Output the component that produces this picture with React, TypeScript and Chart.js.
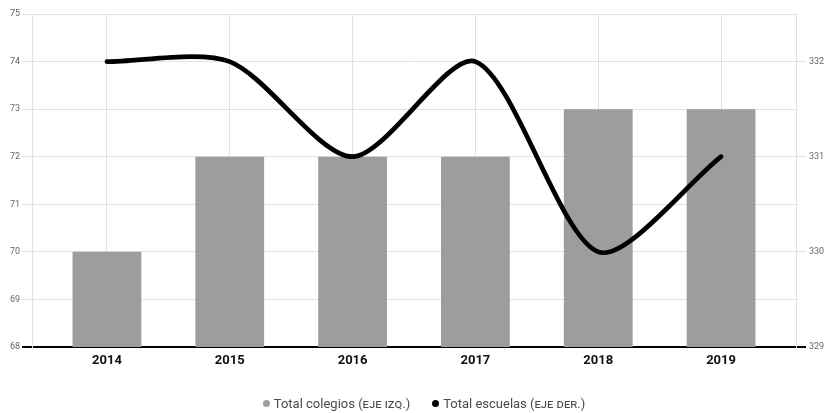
import React, { useEffect, useRef } from "react";
import { Chart, registerables } from "chart.js";

Chart.register(...registerables);

const years = ["2014", "2015", "2016", "2017", "2018", "2019"];
const totalColegios = [70, 72, 72, 72, 73, 73];
const totalEscuelas = [332, 332, 331, 332, 330, 331];

const FONT = "Roboto, 'Noto Sans', sans-serif";

export default function App() {
  const ref = useRef<HTMLCanvasElement | null>(null);

  useEffect(() => {
    if (!ref.current) return;
    const chart = new Chart(ref.current, {
      type: "bar",
      data: {
        datasets: [
          {
            type: "line",
            label: "Total escuelas",
            data: totalEscuelas.map((v, i) => ({ x: i, y: v })),
            yAxisID: "y1",
            borderColor: "#000",
            borderWidth: 4.7,
            tension: 0.27,
            pointRadius: 0,
            borderCapStyle: "round",
            borderJoinStyle: "round",
            fill: false,
            order: 0,
          } as any,
          {
            type: "bar",
            label: "Total colegios",
            data: totalColegios.map((v, i) => ({ x: i, y: v })),
            yAxisID: "y",
            backgroundColor: "#9d9d9b",
            barPercentage: 0.56,
            categoryPercentage: 1,
            order: 1,
          } as any,
        ],
      },
      options: {
        animation: false,
        responsive: false,
        maintainAspectRatio: false,
        layout: { padding: { top: 14, left: 0, right: 0, bottom: 0 } },
        plugins: { legend: { display: false }, tooltip: { enabled: false } },
        scales: {
          x: {
            type: "linear",
            offset: false,
            min: -0.61,
            max: 5.61,
            afterFit: (s: any) => {
              s.height = 28;
            },
            ticks: {
              stepSize: 1,
              includeBounds: false,
              color: "#111",
              font: { family: FONT, size: 13, weight: "bold" },
              padding: 6,
              callback: (v: any) => years[v] ?? "",
              maxRotation: 0,
            },
            grid: { offset: false, color: "#e2e2e2", lineWidth: 1, drawTicks: false },
            border: { display: true, color: "#000", width: 2 },
          },
          y: {
            position: "left",
            min: 68,
            max: 75,
            afterFit: (s: any) => {
              s.width = 32;
            },
            ticks: {
              stepSize: 1,
              color: "#666",
              font: { family: FONT, size: 9 },
              padding: 2,
            },
            grid: {
              color: (c: any) => (c.tick && c.tick.value === 68 ? "#000" : "#e2e2e2"),
              lineWidth: (c: any) => (c.tick && c.tick.value === 68 ? 2 : 1),
              tickLength: 10,
            },
            border: { display: true, color: "#e2e2e2", width: 1 },
          },
          y1: {
            position: "right",
            min: 329,
            max: 332.5,
            afterFit: (s: any) => {
              s.width = 28;
            },
            ticks: {
              stepSize: 1,
              includeBounds: false,
              color: "#666",
              font: { family: FONT, size: 9 },
              padding: 3,
            },
            grid: {
              drawOnChartArea: false,
              color: (c: any) => (c.tick && c.tick.value === 329 ? "#000" : "#e2e2e2"),
              lineWidth: (c: any) => (c.tick && c.tick.value === 329 ? 2 : 1),
              tickLength: 10,
            },
            border: { display: true, color: "#e2e2e2", width: 1 },
          },
        },
      },
    });
    return () => chart.destroy();
  }, []);

  const dot = (color: string) => ({
    display: "inline-block",
    width: 7,
    height: 7,
    borderRadius: "50%",
    background: color,
    marginRight: 4,
    verticalAlign: "middle",
    position: "relative" as const,
    top: -1,
  });

  return (
    <div
      style={{
        position: "fixed",
        left: 0,
        top: 0,
        width: 824,
        height: 413,
        background: "#fff",
        fontFamily: FONT,
      }}
    >
      <canvas ref={ref} width={824} height={375} style={{ display: "block" }} />
      <div
        style={{
          position: "absolute",
          left: 12,
          top: 396,
          width: 824,
          textAlign: "center",
          fontSize: 13,
          color: "#4a4a4a",
          lineHeight: "16px",
          whiteSpace: "nowrap",
        }}
      >
        <span style={dot("#9d9d9b")} />
        <span>
          Total colegios <span style={{ fontVariant: "small-caps", fontSize: 13 }}>(eje izq.)</span>
        </span>
        <span style={{ display: "inline-block", width: 22 }} />
        <span style={dot("#000")} />
        <span>
          Total escuelas <span style={{ fontVariant: "small-caps", fontSize: 13 }}>(eje der.)</span>
        </span>
      </div>
    </div>
  );
}
